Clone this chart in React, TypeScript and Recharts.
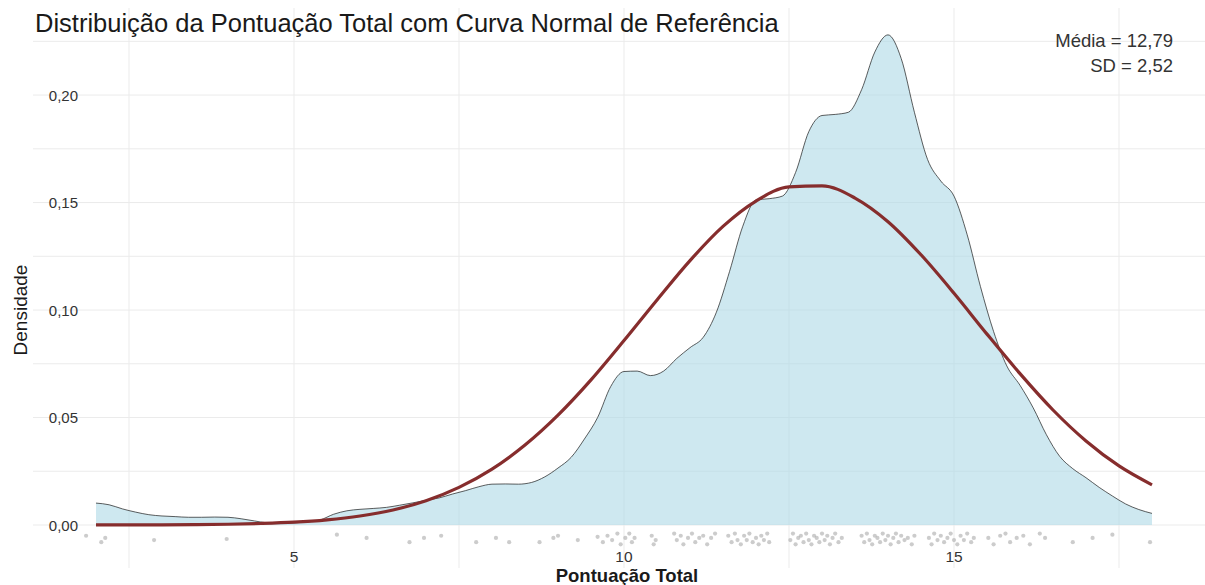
import React from 'react';
import { ComposedChart, Area, Line, Scatter, XAxis, YAxis, ReferenceLine } from 'recharts';

// Kernel density estimate of the total score
const densityX = [
  2.0, 2.2, 2.4, 2.6, 2.8, 3.0, 3.2, 3.4, 3.6, 3.8, 4.0, 4.2, 4.4, 4.6, 4.8,
  5.0, 5.2, 5.4, 5.6, 5.8, 6.0, 6.2, 6.4, 6.6, 6.8, 7.0, 7.2, 7.4, 7.6, 7.8,
  8.0, 8.2, 8.4, 8.6, 8.8, 9.0, 9.2, 9.4, 9.6, 9.8, 10.0, 10.2, 10.4, 10.6, 10.8,
  11.0, 11.2, 11.4, 11.6, 11.8, 12.0, 12.2, 12.4, 12.6, 12.8, 13.0, 13.2, 13.4, 13.6, 13.8,
  14.0, 14.2, 14.4, 14.6, 14.8, 15.0, 15.2, 15.4, 15.6, 15.8, 16.0, 16.2, 16.4, 16.6, 16.8,
  17.0, 17.2, 17.4, 17.6, 17.8, 18.0,
];
const densityY = [
  0.0102, 0.0094, 0.0075, 0.006, 0.0048, 0.0042, 0.0039, 0.0036, 0.0036, 0.0037, 0.0036, 0.0029, 0.0019, 0.001, 0.0008,
  0.001, 0.0015, 0.0024, 0.005, 0.0066, 0.0073, 0.0077, 0.0082, 0.0092, 0.0103, 0.0115, 0.0126, 0.0144, 0.016, 0.0178,
  0.019, 0.0191, 0.019, 0.0198, 0.0224, 0.0265, 0.0315, 0.04, 0.05, 0.0645, 0.0714, 0.0716, 0.0695, 0.0716, 0.0775,
  0.0825, 0.0873, 0.099, 0.118, 0.139, 0.1512, 0.1518, 0.153, 0.164, 0.183, 0.1905, 0.191, 0.192, 0.2025, 0.22,
  0.228, 0.217, 0.192, 0.17, 0.16, 0.153, 0.135, 0.111, 0.09, 0.074, 0.065, 0.0545, 0.042, 0.032, 0.0262,
  0.022, 0.0175, 0.0135, 0.0098, 0.0072, 0.0054,
];

// Reference normal curve
const normalX = [
  2.0, 2.5, 3.0, 3.5, 4.0, 4.5, 5.0, 5.5, 6.0, 6.5, 7.0, 7.5, 8.0, 8.5, 9.0, 9.5, 10.0,
  10.5, 11.0, 11.5, 12.0, 12.5, 13.0, 13.5, 14.0, 14.5, 15.0, 15.5, 16.0, 16.5, 17.0, 17.5, 18.0,
];
const normalY = [
  0.00002, 0.00004, 0.00008, 0.00018, 0.00036, 0.00071, 0.0013, 0.0024, 0.0042, 0.007, 0.0113, 0.0175, 0.026, 0.0372, 0.0511, 0.0675, 0.0858,
  0.1047, 0.123, 0.1389, 0.1507, 0.1573, 0.1578, 0.1521, 0.1411, 0.1257, 0.1078, 0.0888, 0.0704, 0.0535, 0.0391, 0.0275, 0.0187,
];

// Jittered observations shown under the curve
const rugX = [
  1.85, 2.08, 2.14, 2.88, 3.98, 5.65, 6.1, 6.75, 6.97, 7.23, 7.76, 8.06, 8.26, 8.72, 8.93, 9.0, 9.3, 9.6,
  9.68, 9.75, 9.82, 9.9, 9.95, 10.02, 10.08, 10.12, 10.16,
  10.42, 10.45, 10.48,
  10.76, 10.8, 10.86, 10.9, 10.97, 11.03, 11.08, 11.14, 11.2, 11.26, 11.32, 11.38,
  11.58, 11.63, 11.68, 11.72, 11.77, 11.82, 11.86, 11.9, 11.95, 12.0, 12.04, 12.08, 12.12, 12.17, 12.2,
  12.52, 12.56, 12.6, 12.64, 12.68, 12.72, 12.76, 12.8, 12.84, 12.88, 12.92, 12.96, 13.0, 13.04, 13.08, 13.12, 13.16, 13.2, 13.25, 13.3,
  13.6, 13.64, 13.68, 13.72, 13.76, 13.8, 13.84, 13.88, 13.92, 13.96, 14.0, 14.04, 14.08, 14.12, 14.16, 14.2, 14.25, 14.3, 14.36, 14.4,
  14.62, 14.66, 14.7, 14.75, 14.8, 14.85, 14.9, 14.95, 15.0, 15.05, 15.1, 15.15, 15.2, 15.26, 15.3,
  15.52, 15.6, 15.7, 15.78, 15.85, 15.95, 16.05, 16.15, 16.3, 16.38,
  16.8, 17.1, 17.4, 17.97,
];
const rugY = [
  -0.005, -0.008, -0.006, -0.007, -0.0065, -0.0045, -0.006, -0.008, -0.006, -0.005, -0.008, -0.006, -0.008, -0.008, -0.006, -0.005, -0.007, -0.0055,
  -0.008, -0.005, -0.007, -0.004, -0.009, -0.006, -0.004, -0.008, -0.006,
  -0.005, -0.009, -0.007,
  -0.004, -0.007, -0.005, -0.009, -0.006, -0.004, -0.008, -0.006, -0.005, -0.009, -0.006, -0.004,
  -0.005, -0.008, -0.004, -0.007, -0.009, -0.005, -0.007, -0.004, -0.008, -0.006, -0.009, -0.005, -0.007, -0.004, -0.008,
  -0.007, -0.004, -0.009, -0.006, -0.005, -0.008, -0.004, -0.007, -0.009, -0.005, -0.006, -0.008, -0.004, -0.007, -0.005, -0.009, -0.006, -0.004, -0.008, -0.006,
  -0.005, -0.008, -0.004, -0.007, -0.009, -0.005, -0.006, -0.008, -0.004, -0.007, -0.005, -0.009, -0.006, -0.004, -0.008, -0.005, -0.007, -0.006, -0.009, -0.005,
  -0.006, -0.009, -0.004, -0.007, -0.005, -0.008, -0.006, -0.004, -0.007, -0.009, -0.005, -0.007, -0.004, -0.008, -0.006,
  -0.006, -0.009, -0.005, -0.004, -0.008, -0.006, -0.005, -0.009, -0.004, -0.006,
  -0.008, -0.006, -0.0045, -0.008,
];

const xTicks = [2.5, 5, 7.5, 10, 12.5, 15, 17.5];
const xLabelTicks = [5, 10, 15];
const yTicks = [0, 0.025, 0.05, 0.075, 0.1, 0.125, 0.15, 0.175, 0.2, 0.225];
const yLabelTicks = [0, 0.05, 0.1, 0.15, 0.2];

const TITLE = 'Distribuição da Pontuação Total com Curva Normal de Referência';
const X_LABEL = 'Pontuação Total';
const Y_LABEL = 'Densidade';
const STATS = ['Média = 12,79', 'SD = 2,52'];

const FONT = '"Liberation Sans", Arial, sans-serif';

function buildRows() {
  const map = new Map<string, any>();
  densityX.forEach((x, i) => {
    const k = x.toFixed(2);
    map.set(k, { ...(map.get(k) || { x }), density: densityY[i] });
  });
  normalX.forEach((x, i) => {
    const k = x.toFixed(2);
    map.set(k, { ...(map.get(k) || { x }), normal: normalY[i] });
  });
  return Array.from(map.values()).sort((a, b) => a.x - b.x);
}

const rows = buildRows();
const rugData = rugX.map((x, i) => ({ x, y: rugY[i] }));

const fmtY = (v: number) => v.toFixed(2).replace('.', ',');
const isLabelled = (v: number, list: number[]) => list.some((t) => Math.abs(t - v) < 1e-9);

const renderXTick = (props: any) => {
  const { x, payload } = props;
  if (!isLabelled(payload.value, xLabelTicks)) return <g />;
  return (
    <text x={x} y={561.5} textAnchor="middle" fontSize={15.5} fill="#333" fontFamily={FONT}>
      {String(payload.value)}
    </text>
  );
};

const renderYTick = (props: any) => {
  const { y, payload } = props;
  if (!isLabelled(payload.value, yLabelTicks)) return <g />;
  return (
    <text x={78} y={y + 5.5} textAnchor="end" fontSize={15} fill="#333" fontFamily={FONT}>
      {fmtY(payload.value)}
    </text>
  );
};

const RugDot = (props: any) => (
  <circle cx={props.cx} cy={props.cy} r={2.1} fill="#aaaaaa" fillOpacity={0.6} />
);

export default function App() {
  return (
    <div style={{ position: 'absolute', left: 0, top: 0, width: 1205, height: 585, background: '#fff', fontFamily: FONT }}>
      <ComposedChart
        width={1205}
        height={585}
        data={rows}
        margin={{ top: 8, right: 0, bottom: 16, left: 32 }}
      >
        <XAxis
          type="number"
          dataKey="x"
          domain={[1.0455, 18.803]}
          allowDataOverflow
          ticks={xTicks}
          tick={renderXTick}
          axisLine={false}
          tickLine={false}
          height={1}
          interval={0}
        />
        <YAxis
          type="number"
          domain={[-0.02, 0.2405]}
          allowDataOverflow
          ticks={yTicks}
          tick={renderYTick}
          axisLine={false}
          tickLine={false}
          width={1}
          interval={0}
        />
        {xTicks.map((v) => (
          <ReferenceLine key={'gx' + v} x={v} stroke="#ebebeb" strokeWidth={1} zIndex={-50} />
        ))}
        {yTicks.map((v) => (
          <ReferenceLine key={'gy' + v} y={v} stroke="#ebebeb" strokeWidth={1} zIndex={-50} />
        ))}
        <Area
          type="monotone"
          dataKey="density"
          baseValue={0}
          connectNulls
          fill="#add8e6"
          fillOpacity={0.6}
          stroke="#1a1a1a"
          strokeWidth={0.7}
          isAnimationActive={false}
          dot={false}
          activeDot={false}
        />
        <Scatter data={rugData} dataKey="y" shape={<RugDot />} isAnimationActive={false} />
        <Line
          type="monotone"
          dataKey="normal"
          connectNulls
          stroke="#862d2d"
          strokeWidth={3.2}
          dot={false}
          activeDot={false}
          isAnimationActive={false}
        />
      </ComposedChart>
      <svg
        width={1205}
        height={585}
        style={{ position: 'absolute', left: 0, top: 0, pointerEvents: 'none' }}
      >
        <text x={35} y={32} fontSize={25.5} fill="#1a1a1a" fontFamily={FONT}>
          {TITLE}
        </text>
        <text x={1173} y={46.5} fontSize={18.5} fill="#333" textAnchor="end" fontFamily={FONT}>
          {STATS[0]}
        </text>
        <text x={1173} y={71.5} fontSize={18.5} fill="#333" textAnchor="end" fontFamily={FONT}>
          {STATS[1]}
        </text>
        <text x={627} y={581.5} fontSize={18.5} fontWeight="bold" fill="#1a1a1a" textAnchor="middle" fontFamily={FONT}>
          {X_LABEL}
        </text>
        <text
          x={0}
          y={0}
          fontSize={19}
          fill="#1a1a1a"
          textAnchor="middle"
          fontFamily={FONT}
          transform="translate(27,310) rotate(-90)"
        >
          {Y_LABEL}
        </text>
      </svg>
    </div>
  );
}
